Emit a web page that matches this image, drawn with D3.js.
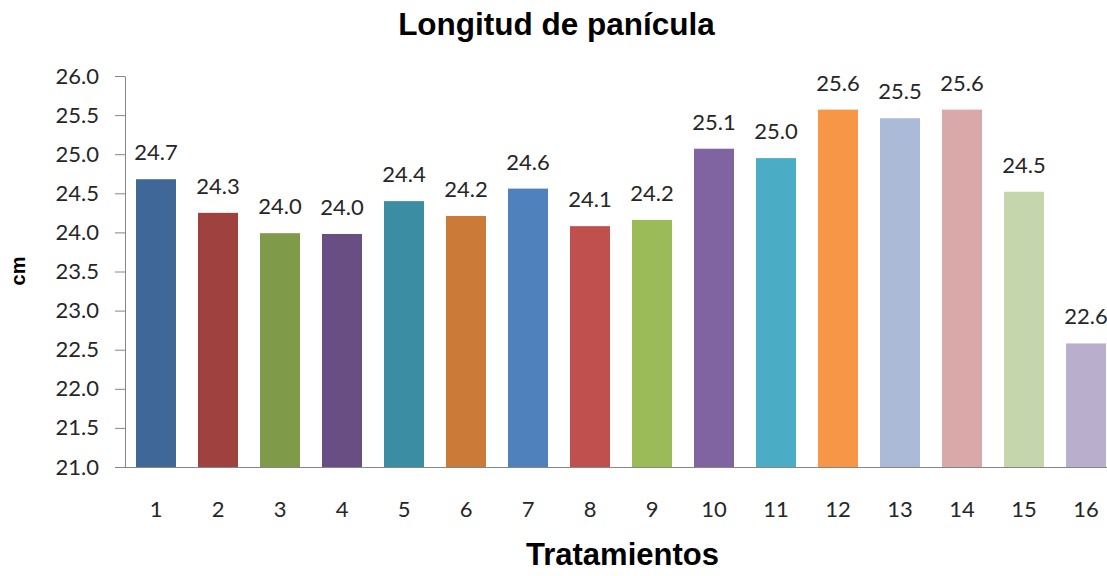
<!DOCTYPE html>
<html><head><meta charset="utf-8">
<script src="https://cdn.jsdelivr.net/npm/d3@7"></script>
<style>body{margin:0;background:#fff}svg{display:block}</style>
</head><body>
<svg id="c" width="1107" height="576"></svg>
<script>
const categories = ["1","2","3","4","5","6","7","8","9","10","11","12","13","14","15","16"];
const values = [24.68,24.25,23.99,23.98,24.40,24.21,24.56,24.08,24.16,25.07,24.95,25.57,25.46,25.57,24.52,22.58];
const labels = ["24.7","24.3","24.0","24.0","24.4","24.2","24.6","24.1","24.2","25.1","25.0","25.6","25.5","25.6","24.5","22.6"];
const colors = ["#3F6898","#9E413F","#7F9A48","#694E84","#3B8DA4","#CB7A37","#4F81BD","#C0504D","#9BBB59","#8064A2","#4BACC6","#F79646","#AABAD7","#D9A8A8","#C6D6AC","#B9AECB"];
const yTicks = [21.0,21.5,22.0,22.5,23.0,23.5,24.0,24.5,25.0,25.5,26.0];
const title = "Longitud de panícula", xTitle = "Tratamientos", yTitle = "cm";

const svg = d3.select("#c");
const font = "Lato, 'Open Sans', sans-serif";
const bold = "'Liberation Sans', Arial, sans-serif";
const x0 = 125, yTop = 76, yBot = 467;
const x = d3.scaleBand().domain(categories).range([x0, x0 + 16*62]).paddingInner(0.355).paddingOuter(0.1775);
const y = d3.scaleLinear().domain([21,26]).range([yBot, yTop]);

svg.append("g").selectAll("rect").data(values).join("rect")
  .attr("x",(d,i)=>x(categories[i])).attr("width",x.bandwidth())
  .attr("y",d=>y(d)).attr("height",d=>yBot-y(d))
  .attr("fill",(d,i)=>colors[i]);

const ya = svg.append("g").attr("transform",`translate(${x0},0)`)
  .call(d3.axisLeft(y).tickValues(yTicks).tickFormat(d3.format(".1f")).tickSize(10).tickSizeOuter(0));
ya.select(".domain").attr("stroke","#868686");
ya.selectAll(".tick line").attr("stroke","#868686");
ya.selectAll(".tick text").attr("x",-26).attr("fill","#262626").style("font-family",font).style("font-size","22px");

const xa = svg.append("g").attr("transform",`translate(0,${yBot})`)
  .call(d3.axisBottom(x).tickSize(0).tickSizeOuter(0));
xa.select(".domain").attr("stroke","#868686").attr("d",`M${x0},0.5H1107`);
xa.selectAll(".tick text").attr("y",50).attr("dy","0").attr("fill","#262626").style("font-family",font).style("font-size","22px");

svg.append("g").selectAll("text").data(values).join("text")
  .attr("x",(d,i)=>x(categories[i])+x.bandwidth()/2)
  .attr("y",d=>y(d)-19)
  .attr("text-anchor","middle").attr("fill","#262626")
  .style("font-family",font).style("font-size","22px")
  .text((d,i)=>labels[i]);

svg.append("text").attr("x",556.5).attr("y",35).attr("text-anchor","middle")
  .style("font-family",bold).style("font-size","31.5px").style("font-weight","bold").attr("fill","#000").text(title);
svg.append("text").attr("x",622.5).attr("y",565).attr("text-anchor","middle")
  .style("font-family",bold).style("font-size","31px").style("font-weight","bold").attr("fill","#000").text(xTitle);
svg.append("text").attr("transform","translate(25,271) rotate(-90)").attr("text-anchor","middle")
  .style("font-family",bold).style("font-size","20px").style("font-weight","bold").attr("fill","#000").text(yTitle);
</script>
</body></html>
